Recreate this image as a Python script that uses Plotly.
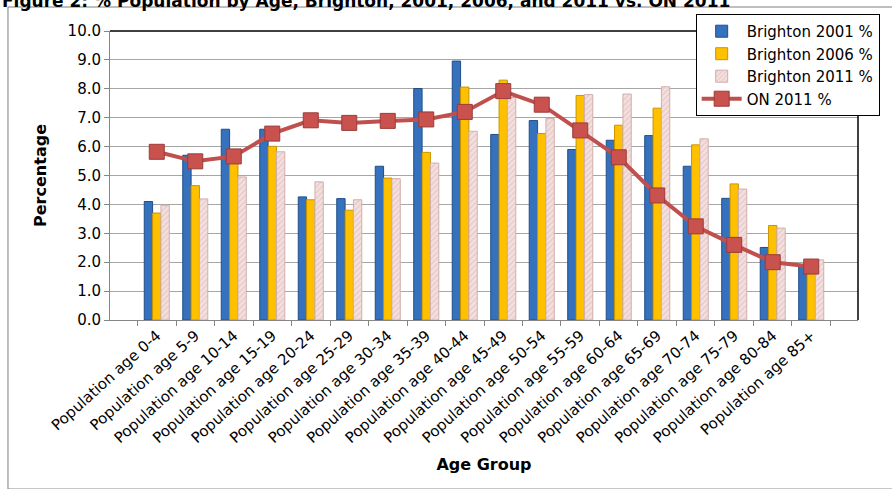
import plotly.graph_objects as go

# Age bands
age_groups = [
    "Population age 0-4", "Population age 5-9", "Population age 10-14",
    "Population age 15-19", "Population age 20-24", "Population age 25-29",
    "Population age 30-34", "Population age 35-39", "Population age 40-44",
    "Population age 45-49", "Population age 50-54", "Population age 55-59",
    "Population age 60-64", "Population age 65-69", "Population age 70-74",
    "Population age 75-79", "Population age 80-84", "Population age 85+",
]

# Share of population (%) by age band
brighton_2001 = [4.1, 5.7, 6.6, 6.6, 4.26, 4.2, 5.32, 8.01, 8.96, 6.42,
                 6.9, 5.9, 6.22, 6.38, 5.32, 4.21, 2.51, 1.9]
brighton_2006 = [3.7, 4.65, 5.6, 6.01, 4.16, 3.8, 4.91, 5.8, 8.06, 8.3,
                 6.45, 7.77, 6.74, 7.33, 6.06, 4.71, 3.27, 1.9]
brighton_2011 = [3.97, 4.19, 4.95, 5.82, 4.78, 4.16, 4.89, 5.43, 6.53, 7.7,
                 6.97, 7.8, 7.82, 8.07, 6.27, 4.53, 3.18, 2.08]
on_2011 = [5.82, 5.49, 5.66, 6.45, 6.91, 6.82, 6.89, 6.94, 7.2, 7.92,
           7.45, 6.56, 5.63, 4.31, 3.24, 2.6, 2.0, 1.85]

y_ticks = [0, 1, 2, 3, 4, 5, 6, 7, 8, 9, 10]

FONT = "DejaVu Sans"

fig = go.Figure()

fig.add_trace(go.Bar(
    name="Brighton 2001 %", x=age_groups, y=brighton_2001,
    marker=dict(color="#3671BE", line=dict(color="#1F4E89", width=1)),
))
fig.add_trace(go.Bar(
    name="Brighton 2006 %", x=age_groups, y=brighton_2006,
    marker=dict(color="#FFC000", line=dict(color="#C99500", width=1)),
))
fig.add_trace(go.Bar(
    name="Brighton 2011 %", x=age_groups, y=brighton_2011,
    marker=dict(
        color="#F4E0DF",
        line=dict(color="#CFAFAD", width=1),
        pattern=dict(shape="/", fgcolor="#D6B4B2", size=4, solidity=0.35),
    ),
))
fig.add_trace(go.Scatter(
    name="ON 2011 %", x=age_groups, y=on_2011, mode="lines+markers",
    line=dict(color="#C0504D", width=4),
    marker=dict(symbol="square", size=15, color="#C9524F",
                line=dict(color="#9B3B38", width=1)),
))

fig.update_layout(
    width=892, height=489,
    margin=dict(l=110, r=34, t=31, b=169),
    paper_bgcolor="white", plot_bgcolor="white",
    font=dict(family=FONT, color="black"),
    barmode="group", bargap=0.35, bargroupgap=0,
    showlegend=True,
    legend=dict(
        x=0.783, y=1.059, xanchor="left", yanchor="top",
        bgcolor="white", bordercolor="black", borderwidth=1,
        font=dict(family=FONT, size=15, color="black"),
        itemwidth=40, tracegroupgap=0,
    ),
    xaxis=dict(
        tickangle=-42, tickfont=dict(family=FONT, size=15),
        tickson="boundaries", ticks="outside", ticklen=5, tickcolor="#868686",
        showline=True, linecolor="#868686", linewidth=1,
        title=dict(text="<b>Age Group</b>", font=dict(family=FONT, size=16),
                   standoff=12),
    ),
    yaxis=dict(
        range=[0, 10], tickvals=y_ticks, tickformat=".1f",
        tickfont=dict(family=FONT, size=15),
        ticks="outside", ticklen=5, tickcolor="#868686",
        showline=True, linecolor="#868686", linewidth=1,
        showgrid=True, gridcolor="#A6A6A6", gridwidth=1,
        zeroline=False,
        title=dict(text="<b>Percentage</b>", font=dict(family=FONT, size=16),
                   standoff=16),
    ),
)

# Top and right frame of the plotting area
fig.add_shape(type="line", xref="paper", yref="paper", x0=0, x1=1, y0=1, y1=1,
              line=dict(color="black", width=1.5))
fig.add_shape(type="line", xref="paper", yref="paper", x0=1, x1=1, y0=0, y1=1,
              line=dict(color="black", width=1.5))

# Outer chart frame
fig.add_shape(type="rect", xref="paper", yref="paper",
              x0=-0.1364, x1=1.2, y0=-0.585, y1=1.083,
              line=dict(color="#7F7F7F", width=1), layer="below")

# Figure caption
fig.add_annotation(
    text="<b>Figure 2: % Population by Age, Brighton, 2001, 2006, and 2011 vs. ON 2011</b>",
    xref="paper", yref="paper", x=-0.147, y=1.104, xanchor="left", yanchor="middle",
    showarrow=False, font=dict(family=FONT, size=17, color="black"),
)

fig.write_html("out.html")
